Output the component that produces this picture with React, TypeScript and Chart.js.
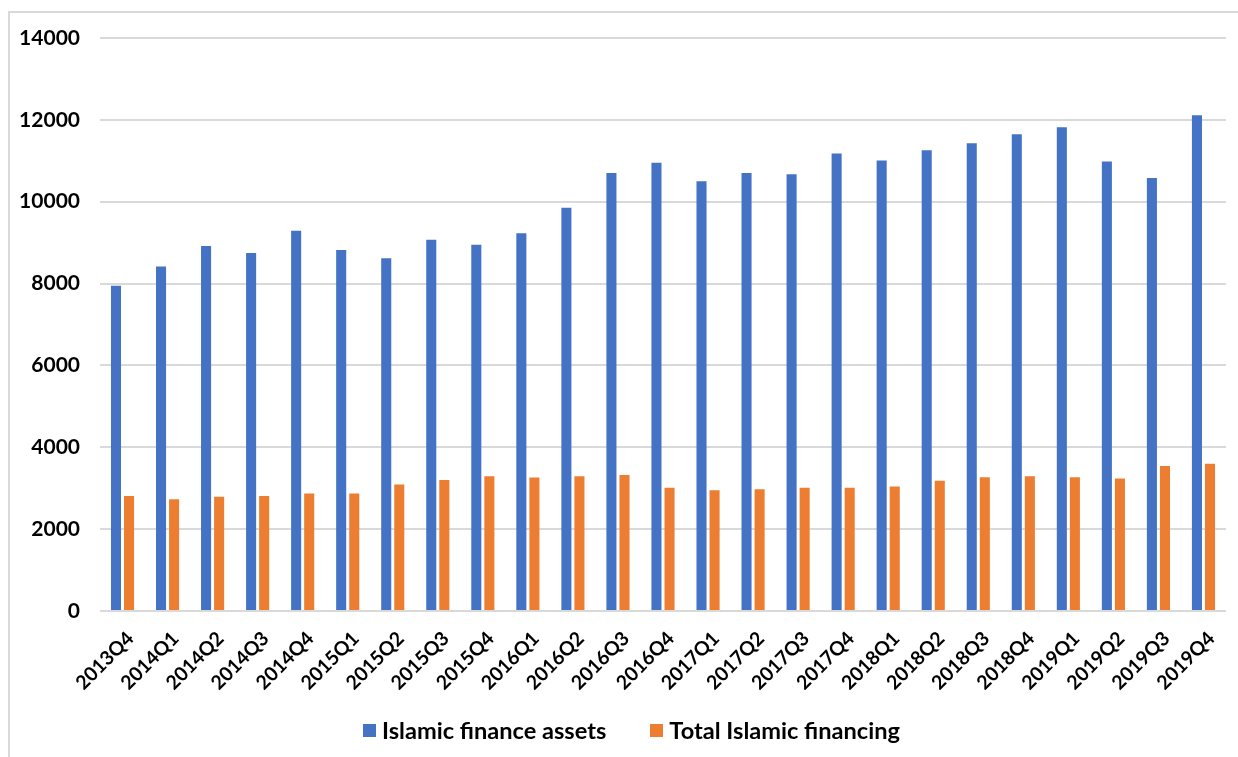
import React, { useEffect, useRef } from "react";
import { Chart, registerables } from "chart.js";

Chart.register(...registerables);

// Quarterly periods on the category axis
const quarters = [
  "2013Q4", "2014Q1", "2014Q2", "2014Q3", "2014Q4",
  "2015Q1", "2015Q2", "2015Q3", "2015Q4",
  "2016Q1", "2016Q2", "2016Q3", "2016Q4",
  "2017Q1", "2017Q2", "2017Q3", "2017Q4",
  "2018Q1", "2018Q2", "2018Q3", "2018Q4",
  "2019Q1", "2019Q2", "2019Q3", "2019Q4",
];

// Islamic finance assets per quarter
const financeAssets = [
  7945, 8420, 8920, 8750, 9290,
  8820, 8620, 9070, 8950,
  9230, 9850, 10700, 10950,
  10500, 10700, 10670, 11180,
  11010, 11260, 11430, 11650,
  11820, 10980, 10580, 12110,
];

// Total Islamic financing per quarter
const totalFinancing = [
  2810, 2730, 2790, 2810, 2870,
  2870, 3090, 3200, 3290,
  3260, 3290, 3320, 3010,
  2950, 2975, 3010, 3010,
  3040, 3180, 3270, 3290,
  3270, 3235, 3545, 3600,
];

// Value axis range and step
const yMin = 0;
const yMax = 14000;
const yStep = 2000;

const seriesNames = ["Islamic finance assets", "Total Islamic financing"];
const seriesColors = ["#4472C4", "#ED7D31"];

const FONT = "Lato, 'Open Sans', sans-serif";

export default function App() {
  const canvasRef = useRef<HTMLCanvasElement | null>(null);

  useEffect(() => {
    const canvas = canvasRef.current;
    if (!canvas) return;
    const chart = new Chart(canvas, {
      type: "bar",
      data: {
        labels: quarters,
        datasets: [
          {
            label: seriesNames[0],
            data: financeAssets,
            backgroundColor: seriesColors[0],
            categoryPercentage: 0.58,
            barPercentage: 0.77,
          },
          {
            label: seriesNames[1],
            data: totalFinancing,
            backgroundColor: seriesColors[1],
            categoryPercentage: 0.58,
            barPercentage: 0.77,
          },
        ],
      },
      options: {
        animation: false,
        responsive: false,
        maintainAspectRatio: false,
        layout: { padding: { top: 38, right: 12, bottom: 46, left: 0 } },
        plugins: {
          legend: { display: false },
          tooltip: { enabled: false },
        },
        scales: {
          x: {
            grid: { display: false },
            border: { display: false },
            ticks: {
              color: "#000",
              font: { family: FONT, size: 19.5, weight: "bold" },
              minRotation: 45,
              maxRotation: 45,
              padding: 8,
              labelOffset: 8,
              autoSkip: false,
            },
            afterFit: (s: any) => {
              s.height = 100;
            },
          },
          y: {
            min: yMin,
            max: yMax,
            border: { display: false },
            grid: { color: "#D9D9D9", lineWidth: 2, drawTicks: false },
            ticks: {
              stepSize: yStep,
              color: "#000",
              font: { family: FONT, size: 21, weight: "bold" },
              padding: 20,
              callback: (v: any) => String(v),
            },
            afterFit: (s: any) => {
              s.width = 100;
            },
          },
        },
      },
    });
    return () => chart.destroy();
  }, []);

  const legendText: React.CSSProperties = {
    fontFamily: FONT,
    fontWeight: 700,
    fontSize: 23.6,
    color: "#000",
    whiteSpace: "nowrap",
  };
  const swatch = (c: string): React.CSSProperties => ({
    width: 13,
    height: 13,
    background: c,
    marginRight: 6,
    flex: "none",
  });

  return (
    <div
      style={{
        position: "fixed",
        left: 0,
        top: 0,
        width: 1238,
        height: 757,
        overflow: "hidden",
        background: "#fff",
      }}
    >
      <div
        style={{
          position: "absolute",
          left: 8,
          top: 11,
          width: 1300,
          height: 800,
          borderLeft: "2px solid #D9D9D9",
          borderTop: "2px solid #D9D9D9",
        }}
      />
      <canvas
        ref={canvasRef}
        width={1238}
        height={757}
        style={{ position: "absolute", left: 0, top: 0 }}
      />
      <div
        style={{
          position: "absolute",
          left: 363,
          top: 730,
          transform: "translateY(-50%)",
          display: "flex",
          alignItems: "center",
        }}
      >
        <div style={swatch(seriesColors[0])} />
        <span style={legendText}>{seriesNames[0]}</span>
        <div style={{ width: 44 }} />
        <div style={swatch(seriesColors[1])} />
        <span style={legendText}>{seriesNames[1]}</span>
      </div>
    </div>
  );
}
